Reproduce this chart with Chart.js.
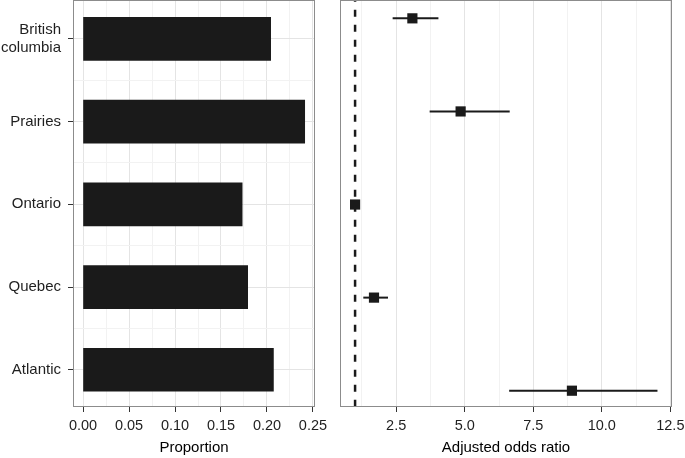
<!DOCTYPE html>
<html><head><meta charset="utf-8">
<script src="https://cdn.jsdelivr.net/npm/chart.js@4"></script>
<style>
html,body{margin:0;padding:0;background:#fff;}
#wrap{position:relative;width:685px;height:458px;overflow:hidden;background:#fff}
#c1{position:absolute;left:0;top:0}
#c2{position:absolute;left:320px;top:0}
</style></head><body>
<div id="wrap"><canvas id="c1" width="345" height="458"></canvas><canvas id="c2" width="365" height="458"></canvas></div>
<script>
// ---- data ----
const regions = ['British columbia', 'Prairies', 'Ontario', 'Quebec', 'Atlantic'];
const regionTickLabels = [['British', 'columbia'], 'Prairies', 'Ontario', 'Quebec', 'Atlantic'];
const proportion = [0.204, 0.241, 0.173, 0.179, 0.207];
const oddsRatio = [3.09, 4.85, 1.00, 1.69, 8.91];
const ciLow  = [2.37, 3.72, null, 1.30, 6.62];
const ciHigh = [4.04, 6.64, null, 2.20, 12.03];
const refOddsRatio = 1;
const proportionTicks = [0, 0.05, 0.10, 0.15, 0.20, 0.25];
const oddsTicks = [2.5, 5.0, 7.5, 10.0, 12.5];

// ---- styling helpers ----
const FONT = "'Liberation Sans', Arial, Helvetica, sans-serif";
const INK = '#1a1a1a';
const GRID_MAJOR = '#e4e4e4';
const GRID_MINOR = '#f2f2f2';

function withMinor(majors, lowerStart) {
  const out = [];
  const step = majors[1] - majors[0];
  if (lowerStart) out.push({value: majors[0] - step / 2, isMinor: true});
  majors.forEach((m, i) => {
    out.push({value: m, isMinor: false});
    if (i < majors.length - 1) out.push({value: m + step / 2, isMinor: true});
  });
  return out;
}
function fixedFit(w, h) {
  return s => {
    if (w != null) s.width = w;
    if (h != null) s.height = h;
    s.paddingTop = 0; s.paddingBottom = 0; s.paddingLeft = 0; s.paddingRight = 0;
  };
}
const gridStyle = {
  color: c => (c.tick && c.tick.isMinor) ? GRID_MINOR : GRID_MAJOR,
  tickColor: c => (c.tick && c.tick.isMinor) ? 'rgba(0,0,0,0)' : '#333',
  tickLength: 5,
  lineWidth: 1,
  drawTicks: true,
  offset: false
};
const panelBorder = {
  id: 'panelBorder',
  afterDraw(chart) {
    const {ctx, chartArea: a} = chart;
    ctx.save();
    ctx.strokeStyle = '#8c8c8c';
    ctx.lineWidth = 1;
    ctx.strokeRect(Math.round(a.left) + 0.5, Math.round(a.top) + 0.5,
                   Math.round(a.right - a.left) - 1, Math.round(a.bottom - a.top) - 1);
    ctx.restore();
  }
};
const tickFontX = {family: FONT, size: 14.5, lineHeight: 1.25};
const tickFontY = {family: FONT, size: 15, lineHeight: 1.2};
const titleFont = {family: FONT, size: 15};
const TICK_TEXT = '#1f1f1f';

// ---- left panel: proportion bars ----
new Chart(document.getElementById('c1'), {
  type: 'bar',
  data: {
    datasets: [{
      data: proportion.map((v, i) => ({x: v, y: i + 1})),
      backgroundColor: INK,
      borderWidth: 0,
      barThickness: 43
    }]
  },
  options: {
    indexAxis: 'y',
    responsive: false,
    animation: false,
    events: [],
    layout: {autoPadding: false, padding: {left: 0, right: 30, top: 0, bottom: 0}},
    plugins: {legend: {display: false}, tooltip: {enabled: false}},
    scales: {
      x: {
        type: 'linear', min: -0.0109, max: 0.2522, offset: false,
        afterBuildTicks: s => { s.ticks = withMinor(proportionTicks, false); },
        afterFit: fixedFit(null, 51),
        grid: gridStyle,
        border: {display: false},
        ticks: {
          autoSkip: false, maxRotation: 0, padding: 5, color: TICK_TEXT, font: tickFontX,
          callback: (v, i, t) => t[i].isMinor ? '' : v.toFixed(2)
        },
        title: {display: true, text: 'Proportion', color: '#000', font: titleFont, padding: {top: 0, bottom: 1}}
      },
      y: {
        type: 'linear', reverse: true, min: 0.53, max: 5.45, offset: false,
        afterBuildTicks: s => { s.ticks = withMinor([1, 2, 3, 4, 5], false); },
        afterFit: fixedFit(73, null),
        grid: gridStyle,
        border: {display: false},
        ticks: {
          autoSkip: false, padding: 7, color: TICK_TEXT, font: tickFontY,
          callback: (v, i, t) => t[i].isMinor ? '' : regionTickLabels[Math.round(v) - 1]
        }
      }
    }
  },
  plugins: [panelBorder]
});

// ---- right panel: adjusted odds ratios ----
const ciSets = regions.map((r, i) => ciLow[i] == null ? null : ({
  data: [{x: ciLow[i], y: i + 1}, {x: ciHigh[i], y: i + 1}],
  showLine: true, borderColor: INK, borderWidth: 2, pointRadius: 0, order: 2
})).filter(Boolean);

new Chart(document.getElementById('c2'), {
  type: 'scatter',
  data: {
    datasets: [
      {
        data: oddsRatio.map((v, i) => ({x: v, y: i + 1})),
        pointStyle: 'rect', pointRadius: 7.2, backgroundColor: INK, borderColor: INK,
        borderWidth: 0, showLine: false, order: 0
      },
      ...ciSets,
      {
        data: [{x: refOddsRatio, y: 0.8}, {x: refOddsRatio, y: 5.2}],
        showLine: true, borderColor: INK, borderWidth: 2.5, borderDash: [7, 8], borderDashOffset: 5,
        pointRadius: 0, order: 3
      }
    ]
  },
  options: {
    responsive: false,
    animation: false,
    events: [],
    layout: {autoPadding: false, padding: {left: 20, right: 13, top: 0, bottom: 0}},
    plugins: {legend: {display: false}, tooltip: {enabled: false}},
    scales: {
      x: {
        type: 'linear', min: 0.45, max: 12.56, offset: false,
        afterBuildTicks: s => { s.ticks = withMinor(oddsTicks, true); },
        afterFit: fixedFit(null, 51),
        grid: gridStyle,
        border: {display: false},
        ticks: {
          autoSkip: false, maxRotation: 0, padding: 5, color: TICK_TEXT, font: tickFontX,
          callback: (v, i, t) => t[i].isMinor ? '' : v.toFixed(1)
        },
        title: {display: true, text: 'Adjusted odds ratio', color: '#000', font: titleFont, padding: {top: 0, bottom: 1}}
      },
      y: {type: 'linear', reverse: true, min: 0.803, max: 5.175, display: false, offset: false}
    }
  },
  plugins: [panelBorder]
});
</script>
</body></html>
